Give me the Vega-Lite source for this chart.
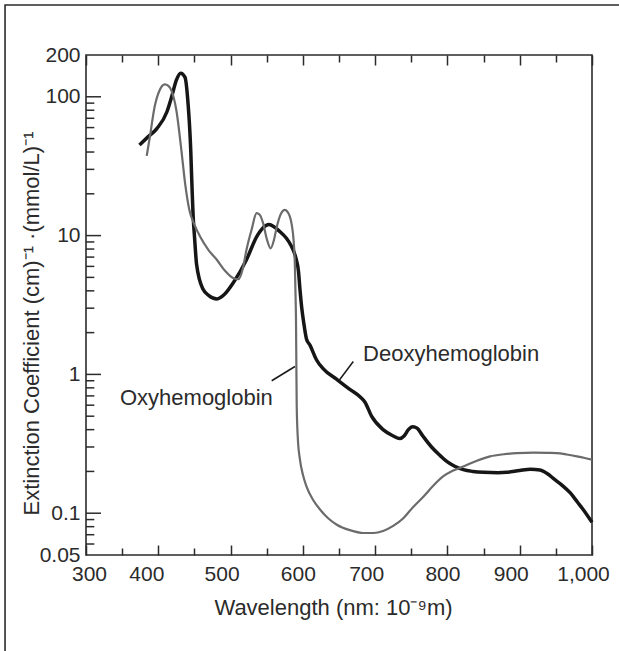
{
  "$schema": "https://vega.github.io/schema/vega-lite/v6.json",
  "width": 506,
  "height": 500,
  "autosize": {"type": "none"},
  "padding": {"left": 86, "top": 55, "right": 27, "bottom": 96},
  "background": "white",
  "config": {"view": {"stroke": "#2b2b2b", "strokeWidth": 1.6}, "font": "Liberation Sans"},
  "datasets": {
    "spectra": [
      {"series": "Deoxyhemoglobin", "nm": 374, "v": 45},
      {"series": "Deoxyhemoglobin", "nm": 385, "v": 51},
      {"series": "Deoxyhemoglobin", "nm": 398, "v": 59},
      {"series": "Deoxyhemoglobin", "nm": 412, "v": 78},
      {"series": "Deoxyhemoglobin", "nm": 418.5, "v": 100},
      {"series": "Deoxyhemoglobin", "nm": 425, "v": 132},
      {"series": "Deoxyhemoglobin", "nm": 431, "v": 148},
      {"series": "Deoxyhemoglobin", "nm": 437, "v": 138},
      {"series": "Deoxyhemoglobin", "nm": 441.5, "v": 85},
      {"series": "Deoxyhemoglobin", "nm": 443, "v": 65},
      {"series": "Deoxyhemoglobin", "nm": 445, "v": 40},
      {"series": "Deoxyhemoglobin", "nm": 446, "v": 28},
      {"series": "Deoxyhemoglobin", "nm": 448.5, "v": 13},
      {"series": "Deoxyhemoglobin", "nm": 450, "v": 10},
      {"series": "Deoxyhemoglobin", "nm": 453, "v": 6.2},
      {"series": "Deoxyhemoglobin", "nm": 462, "v": 4.1},
      {"series": "Deoxyhemoglobin", "nm": 470, "v": 3.7},
      {"series": "Deoxyhemoglobin", "nm": 481, "v": 3.5},
      {"series": "Deoxyhemoglobin", "nm": 492, "v": 3.8},
      {"series": "Deoxyhemoglobin", "nm": 504, "v": 4.6},
      {"series": "Deoxyhemoglobin", "nm": 522, "v": 6.7},
      {"series": "Deoxyhemoglobin", "nm": 536, "v": 9.8},
      {"series": "Deoxyhemoglobin", "nm": 545, "v": 11.4},
      {"series": "Deoxyhemoglobin", "nm": 553, "v": 12},
      {"series": "Deoxyhemoglobin", "nm": 560, "v": 11.6},
      {"series": "Deoxyhemoglobin", "nm": 568, "v": 10.7},
      {"series": "Deoxyhemoglobin", "nm": 577, "v": 9.6},
      {"series": "Deoxyhemoglobin", "nm": 584, "v": 8.4},
      {"series": "Deoxyhemoglobin", "nm": 590, "v": 7},
      {"series": "Deoxyhemoglobin", "nm": 594, "v": 5.5},
      {"series": "Deoxyhemoglobin", "nm": 596, "v": 4.1},
      {"series": "Deoxyhemoglobin", "nm": 598.5, "v": 3},
      {"series": "Deoxyhemoglobin", "nm": 601, "v": 2.4},
      {"series": "Deoxyhemoglobin", "nm": 605, "v": 1.8},
      {"series": "Deoxyhemoglobin", "nm": 610, "v": 1.62},
      {"series": "Deoxyhemoglobin", "nm": 619, "v": 1.27},
      {"series": "Deoxyhemoglobin", "nm": 628, "v": 1.1},
      {"series": "Deoxyhemoglobin", "nm": 647, "v": 0.92},
      {"series": "Deoxyhemoglobin", "nm": 665, "v": 0.78},
      {"series": "Deoxyhemoglobin", "nm": 679, "v": 0.69},
      {"series": "Deoxyhemoglobin", "nm": 686, "v": 0.63},
      {"series": "Deoxyhemoglobin", "nm": 695, "v": 0.5},
      {"series": "Deoxyhemoglobin", "nm": 711, "v": 0.4},
      {"series": "Deoxyhemoglobin", "nm": 725, "v": 0.36},
      {"series": "Deoxyhemoglobin", "nm": 734, "v": 0.345},
      {"series": "Deoxyhemoglobin", "nm": 740, "v": 0.36},
      {"series": "Deoxyhemoglobin", "nm": 746, "v": 0.4},
      {"series": "Deoxyhemoglobin", "nm": 752, "v": 0.42},
      {"series": "Deoxyhemoglobin", "nm": 758, "v": 0.41},
      {"series": "Deoxyhemoglobin", "nm": 766, "v": 0.36},
      {"series": "Deoxyhemoglobin", "nm": 778, "v": 0.3},
      {"series": "Deoxyhemoglobin", "nm": 790, "v": 0.26},
      {"series": "Deoxyhemoglobin", "nm": 799, "v": 0.236},
      {"series": "Deoxyhemoglobin", "nm": 810, "v": 0.218},
      {"series": "Deoxyhemoglobin", "nm": 822, "v": 0.206},
      {"series": "Deoxyhemoglobin", "nm": 835, "v": 0.2},
      {"series": "Deoxyhemoglobin", "nm": 850, "v": 0.197},
      {"series": "Deoxyhemoglobin", "nm": 870, "v": 0.196},
      {"series": "Deoxyhemoglobin", "nm": 882, "v": 0.197},
      {"series": "Deoxyhemoglobin", "nm": 900, "v": 0.203},
      {"series": "Deoxyhemoglobin", "nm": 915, "v": 0.207},
      {"series": "Deoxyhemoglobin", "nm": 928, "v": 0.205},
      {"series": "Deoxyhemoglobin", "nm": 940, "v": 0.19},
      {"series": "Deoxyhemoglobin", "nm": 946, "v": 0.179},
      {"series": "Deoxyhemoglobin", "nm": 958, "v": 0.16},
      {"series": "Deoxyhemoglobin", "nm": 970, "v": 0.14},
      {"series": "Deoxyhemoglobin", "nm": 980, "v": 0.12},
      {"series": "Deoxyhemoglobin", "nm": 988, "v": 0.106},
      {"series": "Deoxyhemoglobin", "nm": 1000, "v": 0.086},
      {"series": "Oxyhemoglobin", "nm": 384, "v": 37.5},
      {"series": "Oxyhemoglobin", "nm": 388.5, "v": 52},
      {"series": "Oxyhemoglobin", "nm": 395, "v": 85},
      {"series": "Oxyhemoglobin", "nm": 402, "v": 112},
      {"series": "Oxyhemoglobin", "nm": 409, "v": 123},
      {"series": "Oxyhemoglobin", "nm": 414, "v": 120},
      {"series": "Oxyhemoglobin", "nm": 418.5, "v": 110},
      {"series": "Oxyhemoglobin", "nm": 425, "v": 80},
      {"series": "Oxyhemoglobin", "nm": 432, "v": 41},
      {"series": "Oxyhemoglobin", "nm": 437, "v": 24},
      {"series": "Oxyhemoglobin", "nm": 443, "v": 15.3},
      {"series": "Oxyhemoglobin", "nm": 450, "v": 12},
      {"series": "Oxyhemoglobin", "nm": 458, "v": 9.8},
      {"series": "Oxyhemoglobin", "nm": 470, "v": 7.8},
      {"series": "Oxyhemoglobin", "nm": 481, "v": 6.7},
      {"series": "Oxyhemoglobin", "nm": 492, "v": 5.6},
      {"series": "Oxyhemoglobin", "nm": 504, "v": 4.93},
      {"series": "Oxyhemoglobin", "nm": 511, "v": 4.85},
      {"series": "Oxyhemoglobin", "nm": 517, "v": 5.8},
      {"series": "Oxyhemoglobin", "nm": 522, "v": 7.9},
      {"series": "Oxyhemoglobin", "nm": 529, "v": 11},
      {"series": "Oxyhemoglobin", "nm": 536, "v": 14.5},
      {"series": "Oxyhemoglobin", "nm": 540, "v": 14.2},
      {"series": "Oxyhemoglobin", "nm": 545, "v": 12.3},
      {"series": "Oxyhemoglobin", "nm": 550, "v": 9.5},
      {"series": "Oxyhemoglobin", "nm": 555.5, "v": 8.1},
      {"series": "Oxyhemoglobin", "nm": 560, "v": 9.3},
      {"series": "Oxyhemoglobin", "nm": 564, "v": 11.6},
      {"series": "Oxyhemoglobin", "nm": 570, "v": 14.5},
      {"series": "Oxyhemoglobin", "nm": 575, "v": 15.3},
      {"series": "Oxyhemoglobin", "nm": 580, "v": 14.5},
      {"series": "Oxyhemoglobin", "nm": 584.6, "v": 12},
      {"series": "Oxyhemoglobin", "nm": 587, "v": 9.5},
      {"series": "Oxyhemoglobin", "nm": 589, "v": 6},
      {"series": "Oxyhemoglobin", "nm": 590, "v": 3.5},
      {"series": "Oxyhemoglobin", "nm": 590.5, "v": 2.5},
      {"series": "Oxyhemoglobin", "nm": 591, "v": 1.2},
      {"series": "Oxyhemoglobin", "nm": 591.5, "v": 0.6},
      {"series": "Oxyhemoglobin", "nm": 593, "v": 0.35},
      {"series": "Oxyhemoglobin", "nm": 596, "v": 0.243},
      {"series": "Oxyhemoglobin", "nm": 600, "v": 0.19},
      {"series": "Oxyhemoglobin", "nm": 605, "v": 0.156},
      {"series": "Oxyhemoglobin", "nm": 614, "v": 0.125},
      {"series": "Oxyhemoglobin", "nm": 624, "v": 0.106},
      {"series": "Oxyhemoglobin", "nm": 635, "v": 0.092},
      {"series": "Oxyhemoglobin", "nm": 647, "v": 0.0826},
      {"series": "Oxyhemoglobin", "nm": 665, "v": 0.0755},
      {"series": "Oxyhemoglobin", "nm": 684, "v": 0.072},
      {"series": "Oxyhemoglobin", "nm": 698, "v": 0.072},
      {"series": "Oxyhemoglobin", "nm": 711, "v": 0.0745},
      {"series": "Oxyhemoglobin", "nm": 725, "v": 0.081},
      {"series": "Oxyhemoglobin", "nm": 739, "v": 0.092},
      {"series": "Oxyhemoglobin", "nm": 752, "v": 0.11},
      {"series": "Oxyhemoglobin", "nm": 767, "v": 0.132},
      {"series": "Oxyhemoglobin", "nm": 780, "v": 0.157},
      {"series": "Oxyhemoglobin", "nm": 794, "v": 0.184},
      {"series": "Oxyhemoglobin", "nm": 808, "v": 0.203},
      {"series": "Oxyhemoglobin", "nm": 822, "v": 0.217},
      {"series": "Oxyhemoglobin", "nm": 840, "v": 0.238},
      {"series": "Oxyhemoglobin", "nm": 859, "v": 0.257},
      {"series": "Oxyhemoglobin", "nm": 878, "v": 0.266},
      {"series": "Oxyhemoglobin", "nm": 896, "v": 0.271},
      {"series": "Oxyhemoglobin", "nm": 919, "v": 0.273},
      {"series": "Oxyhemoglobin", "nm": 940, "v": 0.272},
      {"series": "Oxyhemoglobin", "nm": 951, "v": 0.271},
      {"series": "Oxyhemoglobin", "nm": 965, "v": 0.265},
      {"series": "Oxyhemoglobin", "nm": 979, "v": 0.257},
      {"series": "Oxyhemoglobin", "nm": 990, "v": 0.25},
      {"series": "Oxyhemoglobin", "nm": 1000, "v": 0.243}
    ],
    "leaders": [
      {"label": "Deoxyhemoglobin", "nm": 669.8, "v": 1.24, "nm2": 649, "v2": 0.889, "tnm": 683.3, "tv": 1.41},
      {"label": "Oxyhemoglobin", "nm": 556.9, "v": 0.9, "nm2": 589.1, "v2": 1.14, "tnm": 347, "tv": 0.679}
    ],
    "ymajor": [{"t": 0.1}, {"t": 1}, {"t": 10}, {"t": 100}],
    "yminor": [
      {"t": 0.06}, {"t": 0.07}, {"t": 0.08}, {"t": 0.09},
      {"t": 0.2}, {"t": 0.3}, {"t": 0.4}, {"t": 0.5}, {"t": 0.6}, {"t": 0.7}, {"t": 0.8}, {"t": 0.9},
      {"t": 2}, {"t": 3}, {"t": 4}, {"t": 5}, {"t": 6}, {"t": 7}, {"t": 8}, {"t": 9},
      {"t": 20}, {"t": 30}, {"t": 40}, {"t": 50}, {"t": 60}, {"t": 70}, {"t": 80}, {"t": 90}
    ]
  },
  "layer": [
    {
      "data": {"name": "spectra"},
      "mark": {"type": "line", "interpolate": "monotone"},
      "encoding": {
        "x": {
          "field": "nm", "type": "quantitative",
          "scale": {"domain": [300, 1000], "nice": false, "zero": false},
          "axis": {
            "orient": "bottom",
            "values": [300, 350, 400, 450, 500, 550, 600, 650, 700, 750, 800, 850, 900, 950, 1000],
            "domain": false, "grid": false,
            "tickColor": "#2b2b2b", "tickWidth": 1.5,
            "tickSize": {"condition": {"test": "datum.value % 100 == 0", "value": -10}, "value": -7},
            "labelExpr": "datum.value % 100 == 0 ? format(datum.value, ',') : ''",
            "labelFont": "Liberation Sans", "labelFontSize": 21, "labelColor": "#2b2b2b",
            "labelPadding": 18.5, "labelFlush": false, "labelOverlap": false, "labelBaseline": "top",
            "labelOffset": {"condition": [
              {"test": "datum.value == 300", "value": 3},
              {"test": "datum.value == 400", "value": -12},
              {"test": "datum.value == 600 || datum.value == 800", "value": -5}
            ], "value": -9},
            "title": "Wavelength (nm: 10⁻⁹m)",
            "titleFont": "Liberation Sans", "titleFontSize": 22, "titleFontWeight": "normal", "titleColor": "#2b2b2b",
            "titleX": 247, "titleY": 59, "titleBaseline": "alphabetic", "titleAlign": "center"
          }
        },
        "y": {
          "field": "v", "type": "quantitative",
          "scale": {"type": "log", "domain": [0.05, 200], "nice": false},
          "axis": {
            "orient": "left",
            "values": [0.05, 0.1, 1, 10, 100, 200],
            "domain": false, "grid": false, "ticks": false,
            "labelExpr": "'' + datum.value",
            "labelFont": "Liberation Sans", "labelFontSize": 21, "labelColor": "#2b2b2b",
            "labelPadding": 6, "labelFlush": false, "labelOverlap": false, "labelBaseline": "middle",
            "title": "Extinction Coefficient (cm)⁻¹ ·(mmol/L)⁻¹",
            "titleFont": "Liberation Sans", "titleFontSize": 22, "titleFontWeight": "normal", "titleColor": "#2b2b2b",
            "titleAngle": -90, "titleX": -48, "titleY": 268, "titleBaseline": "alphabetic", "titleAlign": "center"
          }
        },
        "color": {"field": "series", "type": "nominal", "scale": {"domain": ["Deoxyhemoglobin", "Oxyhemoglobin"], "range": ["#161616", "#6b6b6b"]}, "legend": null},
        "strokeWidth": {"field": "series", "type": "nominal", "scale": {"domain": ["Deoxyhemoglobin", "Oxyhemoglobin"], "range": [3.5, 2.2]}, "legend": null},
        "order": {"field": "nm", "type": "quantitative"}
      }
    },
    {
      "data": {"name": "leaders"},
      "mark": {"type": "rule", "color": "#1a1a1a", "strokeWidth": 1.5},
      "encoding": {
        "x": {
          "field": "nm", "type": "quantitative",
          "axis": {
            "orient": "top",
            "values": [300, 350, 400, 450, 500, 550, 600, 650, 700, 750, 800, 850, 900, 950, 1000],
            "domain": false, "grid": false, "labels": false, "title": null,
            "tickColor": "#2b2b2b", "tickWidth": 1.5,
            "tickSize": {"condition": {"test": "datum.value % 100 == 0", "value": -10}, "value": -7}
          }
        },
        "x2": {"field": "nm2"},
        "y": {"field": "v", "type": "quantitative", "axis": null},
        "y2": {"field": "v2"}
      }
    },
    {
      "data": {"name": "ymajor"},
      "mark": {"type": "rule", "color": "#2b2b2b", "strokeWidth": 1.5},
      "encoding": {
        "x": {"datum": 300, "type": "quantitative", "axis": null},
        "x2": {"datum": 320.75},
        "y": {"field": "t", "type": "quantitative", "axis": null}
      }
    },
    {
      "data": {"name": "yminor"},
      "mark": {"type": "rule", "color": "#2b2b2b", "strokeWidth": 1.5},
      "encoding": {
        "x": {"datum": 300, "type": "quantitative", "axis": null},
        "x2": {"datum": 311.5},
        "y": {"field": "t", "type": "quantitative", "axis": null}
      }
    },
    {
      "data": {"name": "leaders"},
      "mark": {"type": "text", "align": "left", "baseline": "middle", "font": "Liberation Sans", "fontSize": 22, "color": "#2b2b2b"},
      "encoding": {
        "x": {"field": "tnm", "type": "quantitative", "axis": null},
        "y": {"field": "tv", "type": "quantitative", "axis": null},
        "text": {"field": "label"}
      }
    },
    {
      "data": {"values": [{}]},
      "mark": {"type": "rect", "filled": false, "stroke": "#2b2b2b", "strokeWidth": 1.6},
      "encoding": {
        "x": {"datum": 188, "type": "quantitative", "axis": null},
        "x2": {"datum": 1045.6},
        "y": {"datum": 458, "type": "quantitative", "axis": null},
        "y2": {"datum": 0.0088}
      }
    }
  ],
  "resolve": {"axis": {"x": "independent", "y": "independent"}}
}
